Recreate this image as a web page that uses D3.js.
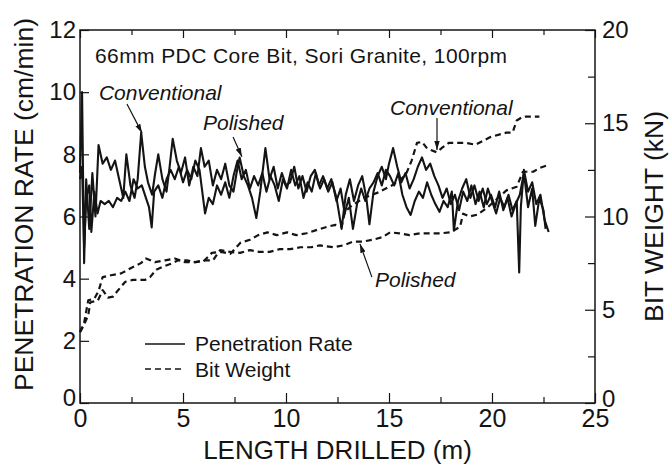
<!DOCTYPE html>
<html>
<head>
<meta charset="utf-8">
<script src="https://cdn.jsdelivr.net/npm/d3@7"></script>
<style>
  body { margin: 0; background: #fff; }
  svg { display: block; font-family: "Liberation Sans", Arial, Helvetica, sans-serif; }
</style>
</head>
<body>
<div id="chart"></div>
<script>
// [depth (m), penetration rate (cm/min)]
const convRate = [
  [0, 7.4], [0.1, 10.0], [0.2, 4.5], [0.3, 7.2], [0.45, 5.6], [0.6, 7.4], [0.75, 6.0], [0.9, 8.3],
  [1.1, 7.7], [1.3, 7.9], [1.5, 7.5], [1.7, 7.8], [1.9, 7.2], [2.1, 6.6], [2.25, 8.0], [2.45, 7.0],
  [2.65, 6.6], [2.8, 7.2], [2.97, 8.7], [3.15, 7.6], [3.3, 7.1], [3.5, 6.7], [3.65, 7.4], [3.8, 8.0],
  [4.0, 7.2], [4.2, 6.8], [4.35, 7.6], [4.5, 8.5], [4.7, 7.8], [4.9, 7.4], [5.1, 7.9], [5.3, 7.0],
  [5.5, 7.6], [5.7, 7.3], [5.87, 8.2], [6.05, 7.6], [6.25, 7.8], [6.45, 7.0], [6.65, 7.5], [6.85, 7.2],
  [7.05, 7.7], [7.25, 7.0], [7.45, 6.8], [7.6, 7.4], [7.75, 7.9], [7.95, 7.3], [8.15, 7.0], [8.35, 6.6],
  [8.56, 5.95], [8.75, 6.8], [9.0, 8.2], [9.2, 7.2], [9.4, 7.6], [9.6, 6.9], [9.8, 7.4], [10.0, 7.0],
  [10.2, 7.1], [10.4, 7.6], [10.6, 6.9], [10.8, 7.3], [11.0, 6.8], [11.2, 7.3], [11.4, 7.5], [11.6, 7.0],
  [11.8, 7.3], [12.0, 6.9], [12.2, 7.2], [12.45, 6.6], [12.7, 5.6], [12.9, 6.7], [13.1, 7.2], [13.3, 6.5],
  [13.5, 7.0], [13.7, 7.3], [13.9, 6.6], [14.05, 5.75], [14.25, 6.8], [14.45, 7.3], [14.65, 7.6], [14.85, 7.2],
  [15.0, 7.7], [15.2, 8.2], [15.4, 7.6], [15.6, 7.1], [15.8, 7.4], [16.0, 6.9], [16.2, 7.2], [16.4, 7.6],
  [16.6, 7.9], [16.8, 7.5], [17.0, 7.7], [17.2, 7.3], [17.4, 7.0], [17.6, 6.6], [17.8, 6.9], [18.0, 6.4],
  [18.2, 6.7], [18.4, 6.2], [18.6, 6.8], [18.8, 6.5], [19.0, 7.0], [19.2, 6.4], [19.4, 6.8], [19.6, 6.3],
  [19.8, 6.9], [20.0, 6.5], [20.2, 6.1], [20.4, 6.6], [20.6, 6.3], [20.8, 6.7], [21.0, 6.2], [21.2, 6.5],
  [21.32, 4.2], [21.4, 6.3], [21.55, 7.5], [21.75, 6.8], [21.95, 7.1], [22.15, 6.4], [22.35, 6.7], [22.55, 5.9],
  [22.75, 5.5]
];

const polRate = [
  [0, 7.2], [0.1, 7.6], [0.2, 5.0], [0.3, 6.6], [0.45, 7.0], [0.55, 5.5], [0.7, 6.8], [0.85, 6.1],
  [1.0, 6.5], [1.2, 6.4], [1.4, 6.5], [1.6, 6.3], [1.8, 6.6], [2.0, 6.5], [2.2, 6.8], [2.4, 6.5],
  [2.6, 7.2], [2.8, 6.9], [3.0, 7.0], [3.2, 6.6], [3.35, 6.3], [3.48, 5.65], [3.6, 6.8], [3.8, 7.0],
  [4.0, 6.6], [4.2, 7.2], [4.4, 7.5], [4.6, 7.2], [4.8, 7.6], [5.0, 7.1], [5.2, 7.5], [5.4, 7.2],
  [5.6, 7.8], [5.8, 7.5], [6.07, 6.1], [6.25, 6.6], [6.45, 6.4], [6.65, 7.0], [6.85, 6.7], [7.05, 7.1],
  [7.25, 6.6], [7.45, 7.3], [7.65, 7.8], [7.85, 7.2], [8.05, 7.5], [8.25, 6.9], [8.45, 7.3], [8.65, 7.0],
  [8.85, 7.4], [9.05, 6.8], [9.25, 7.3], [9.45, 7.0], [9.65, 6.5], [9.85, 7.2], [10.05, 6.9], [10.25, 7.5],
  [10.45, 7.0], [10.65, 7.3], [10.85, 6.6], [11.05, 7.1], [11.25, 6.8], [11.45, 7.4], [11.65, 6.9], [11.85, 7.2],
  [12.05, 6.8], [12.25, 7.1], [12.45, 6.5], [12.65, 6.9], [12.85, 6.1], [13.05, 6.6], [13.25, 5.6], [13.45, 6.4],
  [13.65, 6.9], [13.85, 6.5], [14.05, 6.9], [14.25, 7.1], [14.45, 7.4], [14.65, 7.0], [14.85, 7.5], [15.05, 7.3],
  [15.25, 7.0], [15.45, 7.4], [15.65, 6.7], [15.85, 6.3], [16.05, 6.05], [16.25, 6.5], [16.45, 6.8], [16.65, 6.6],
  [16.85, 7.1], [17.05, 6.7], [17.25, 6.4], [17.45, 6.15], [17.65, 6.5], [17.85, 6.3], [18.05, 6.8], [18.15, 5.55],
  [18.35, 6.5], [18.55, 6.9], [18.75, 7.2], [18.95, 6.6], [19.15, 7.0], [19.35, 6.5], [19.55, 6.9], [19.75, 6.4],
  [19.95, 6.7], [20.15, 6.3], [20.35, 6.8], [20.55, 6.2], [20.75, 6.6], [20.95, 6.0], [21.15, 6.4], [21.35, 6.7],
  [21.55, 7.4], [21.75, 6.3], [21.95, 6.9], [22.1, 5.7], [22.3, 6.6], [22.5, 6.2], [22.6, 5.6]
];

// [depth (m), bit weight (kN)]
const convWeight = [
  [0, 3.8], [0.2, 4.3], [0.4, 5.5], [0.7, 5.6], [0.9, 6.0], [1.1, 6.75], [1.5, 6.85], [2.0, 6.95],
  [2.5, 7.25], [2.96, 7.5], [3.2, 7.75], [3.64, 7.55], [4.13, 7.65], [4.6, 7.75], [5.1, 7.55], [5.6, 7.55],
  [6.0, 7.6], [6.4, 8.05], [6.85, 8.1], [7.3, 8.0], [7.8, 8.6], [8.25, 8.75], [8.65, 9.0], [9.1, 9.15],
  [9.55, 9.0], [10.05, 9.15], [10.5, 9.0], [11.0, 9.1], [11.55, 9.3], [12.0, 9.45], [12.4, 9.55], [12.7, 9.45],
  [12.86, 10.25], [13.2, 10.6], [13.8, 11.0], [14.5, 11.3], [15.2, 11.7], [15.8, 12.2], [16.1, 13.0], [16.36, 13.95],
  [16.6, 14.0], [16.85, 13.65], [17.3, 13.45], [17.6, 13.7], [17.9, 13.95], [18.7, 13.95], [19.2, 13.85], [19.9, 14.25],
  [20.7, 14.5], [21.0, 14.5], [21.2, 15.15], [21.5, 15.35], [22.3, 15.35]
];

const polWeight = [
  [0, 3.8], [0.15, 4.1], [0.4, 4.7], [0.5, 5.4], [0.87, 5.5], [1.1, 6.05], [1.36, 5.65], [1.6, 5.7],
  [1.85, 6.05], [2.2, 6.5], [2.57, 6.6], [3.15, 6.6], [3.4, 6.75], [3.7, 7.15], [4.0, 7.3], [4.5, 7.5],
  [4.76, 7.65], [5.2, 7.65], [5.6, 7.55], [6.0, 7.65], [6.46, 7.65], [6.8, 8.2], [7.3, 8.1], [7.77, 8.05],
  [8.25, 8.2], [8.7, 8.1], [9.2, 8.1], [9.7, 8.25], [10.2, 8.25], [10.7, 8.35], [11.2, 8.35], [11.65, 8.45],
  [12.3, 8.35], [12.77, 8.45], [13.25, 8.65], [13.7, 8.65], [14.2, 8.75], [14.7, 8.9], [15.05, 9.15], [15.5, 9.1],
  [16.0, 9.0], [16.5, 9.1], [17.0, 9.1], [17.5, 9.1], [18.0, 9.15], [18.45, 9.45], [18.6, 10.15], [18.9, 10.0],
  [19.3, 10.1], [19.8, 10.5], [20.3, 11.0], [20.7, 11.4], [21.2, 11.6], [21.5, 12.4], [22.0, 12.4], [22.3, 12.6],
  [22.7, 12.75]
];

const xMajorTicks = [0, 5, 10, 15, 20, 25];
const xMinorTicks = [2.5, 7.5, 12.5, 17.5, 22.5];
const rateTicks = [0, 2, 4, 6, 8, 10, 12];
const weightMajorTicks = [0, 5, 10, 15, 20];
const weightMinorTicks = [2.5, 7.5, 12.5, 17.5];

const width = 670;
const height = 466;
const margin = { top: 30, right: 75, bottom: 63, left: 80 };
const ink = '#141414';

const svg = d3.select('#chart')
  .append('svg')
  .attr('width', width)
  .attr('height', height);

const x = d3.scaleLinear().domain([0, 25]).range([margin.left, width - margin.right]);
const yRate = d3.scaleLinear().domain([0, 12]).range([height - margin.bottom, margin.top]);
const yWeight = d3.scaleLinear().domain([0, 20]).range([height - margin.bottom, margin.top]);

// axes: ticks all point into the plot
function styleAxis(g, fontSize) {
  g.select('.domain').remove();
  g.selectAll('.tick line').attr('stroke', ink).attr('stroke-width', 1.2);
  g.selectAll('.tick text').attr('fill', ink).style('font-size', fontSize + 'px');
}

const bottomY = height - margin.bottom;

svg.append('g')
  .attr('transform', `translate(0,${bottomY})`)
  .call(d3.axisBottom(x).tickValues(xMajorTicks).tickSize(-10).tickPadding(6).tickFormat(d3.format('d')))
  .call(g => styleAxis(g, 25));

svg.append('g')
  .attr('transform', `translate(0,${bottomY})`)
  .call(d3.axisBottom(x).tickValues(xMinorTicks).tickSize(-6).tickFormat(''))
  .call(g => styleAxis(g, 0));

svg.append('g')
  .attr('transform', `translate(0,${margin.top})`)
  .call(d3.axisTop(x).tickValues(xMajorTicks).tickSize(-8).tickFormat(''))
  .call(g => styleAxis(g, 0));

svg.append('g')
  .attr('transform', `translate(0,${margin.top})`)
  .call(d3.axisTop(x).tickValues(xMinorTicks).tickSize(-5).tickFormat(''))
  .call(g => styleAxis(g, 0));

svg.append('g')
  .attr('transform', `translate(${margin.left},0)`)
  .call(d3.axisLeft(yRate).tickValues(rateTicks).tickSize(-9).tickPadding(4))
  .call(g => styleAxis(g, 24))
  .call(g => g.selectAll('.tick text').filter(d => d === 0).attr('dy', '0.1em'));

svg.append('g')
  .attr('transform', `translate(${width - margin.right},0)`)
  .call(d3.axisRight(yWeight).tickValues(weightMajorTicks).tickSize(-10).tickPadding(7))
  .call(g => styleAxis(g, 24))
  .call(g => g.selectAll('.tick text').filter(d => d === 0).attr('dy', '0.15em'));

svg.append('g')
  .attr('transform', `translate(${width - margin.right},0)`)
  .call(d3.axisRight(yWeight).tickValues(weightMinorTicks).tickSize(-7).tickFormat(''))
  .call(g => styleAxis(g, 0));

// frame
svg.append('rect')
  .attr('x', margin.left)
  .attr('y', margin.top)
  .attr('width', width - margin.left - margin.right)
  .attr('height', height - margin.top - margin.bottom)
  .attr('fill', 'none')
  .attr('stroke', ink)
  .attr('stroke-width', 1.5);

// series
const rateLine = d3.line().x(d => x(d[0])).y(d => yRate(d[1]));
const weightLine = d3.line().x(d => x(d[0])).y(d => yWeight(d[1]));

const plot = svg.append('g').attr('fill', 'none').attr('stroke', ink).attr('stroke-linejoin', 'round');

[convWeight, polWeight].forEach(series => {
  plot.append('path')
    .attr('d', weightLine(series))
    .attr('stroke-width', 2.2)
    .attr('stroke-dasharray', '6,4');
});

[polRate, convRate].forEach(series => {
  plot.append('path')
    .attr('d', rateLine(series))
    .attr('stroke-width', 2.1);
});

// annotations
svg.append('defs')
  .append('marker')
  .attr('id', 'head')
  .attr('viewBox', '0 0 10 6')
  .attr('refX', 10)
  .attr('refY', 3)
  .attr('markerWidth', 9)
  .attr('markerHeight', 6)
  .attr('markerUnits', 'userSpaceOnUse')
  .attr('orient', 'auto')
  .append('path')
  .attr('d', 'M0,0L10,3L0,6Z')
  .attr('fill', ink);

svg.append('text')
  .attr('x', x(0.73))
  .attr('y', yRate(10.94))
  .attr('fill', ink)
  .style('font-size', '21px')
  .style('letter-spacing', '0.4px')
  .text('66mm PDC Core Bit, Sori Granite, 100rpm');

const notes = [
  { label: 'Conventional', tx: 0.92, ty: 9.75, from: [2.28, 9.62], to: [3.01, 8.69] },
  { label: 'Polished', tx: 5.97, ty: 8.78, from: [7.43, 8.56], to: [7.86, 7.92] },
  { label: 'Conventional', tx: 15.05, ty: 9.27, from: [17.33, 9.17], to: [17.33, 8.14] },
  { label: 'Polished', tx: 14.32, ty: 3.73, from: [14.17, 4.05], to: [13.59, 5.12] }
];

notes.forEach(n => {
  svg.append('text')
    .attr('x', x(n.tx))
    .attr('y', yRate(n.ty))
    .attr('fill', ink)
    .style('font-size', '21px')
    .style('font-style', 'italic')
    .text(n.label);
  svg.append('line')
    .attr('x1', x(n.from[0]))
    .attr('y1', yRate(n.from[1]))
    .attr('x2', x(n.to[0]))
    .attr('y2', yRate(n.to[1]))
    .attr('stroke', ink)
    .attr('stroke-width', 1.2)
    .attr('marker-end', 'url(#head)');
});

// legend
const legend = svg.append('g').attr('transform', 'translate(145,344)');
legend.append('line').attr('x1', 0).attr('x2', 40).attr('stroke', ink).attr('stroke-width', 1.6);
legend.append('line').attr('x1', 0).attr('x2', 40).attr('y1', 25).attr('y2', 25)
  .attr('stroke', ink).attr('stroke-width', 1.6).attr('stroke-dasharray', '6,4');
legend.append('text').attr('x', 50).attr('y', 7).attr('fill', ink).style('font-size', '21px').text('Penetration Rate');
legend.append('text').attr('x', 50).attr('y', 33).attr('fill', ink).style('font-size', '21px').text('Bit Weight');

// axis titles
svg.append('text')
  .attr('x', (margin.left + width - margin.right) / 2)
  .attr('y', 459)
  .attr('text-anchor', 'middle')
  .attr('fill', ink)
  .style('font-size', '26px')
  .text('LENGTH DRILLED (m)');

svg.append('text')
  .attr('transform', `translate(33,${(margin.top + bottomY) / 2 - 12}) rotate(-90)`)
  .attr('text-anchor', 'middle')
  .attr('fill', ink)
  .style('font-size', '26.5px')
  .text('PENETRATION RATE (cm/min)');

svg.append('text')
  .attr('transform', `translate(663,${(margin.top + bottomY) / 2}) rotate(-90)`)
  .attr('text-anchor', 'middle')
  .attr('fill', ink)
  .style('font-size', '26.5px')
  .text('BIT WEIGHT (kN)');
</script>
</body>
</html>
